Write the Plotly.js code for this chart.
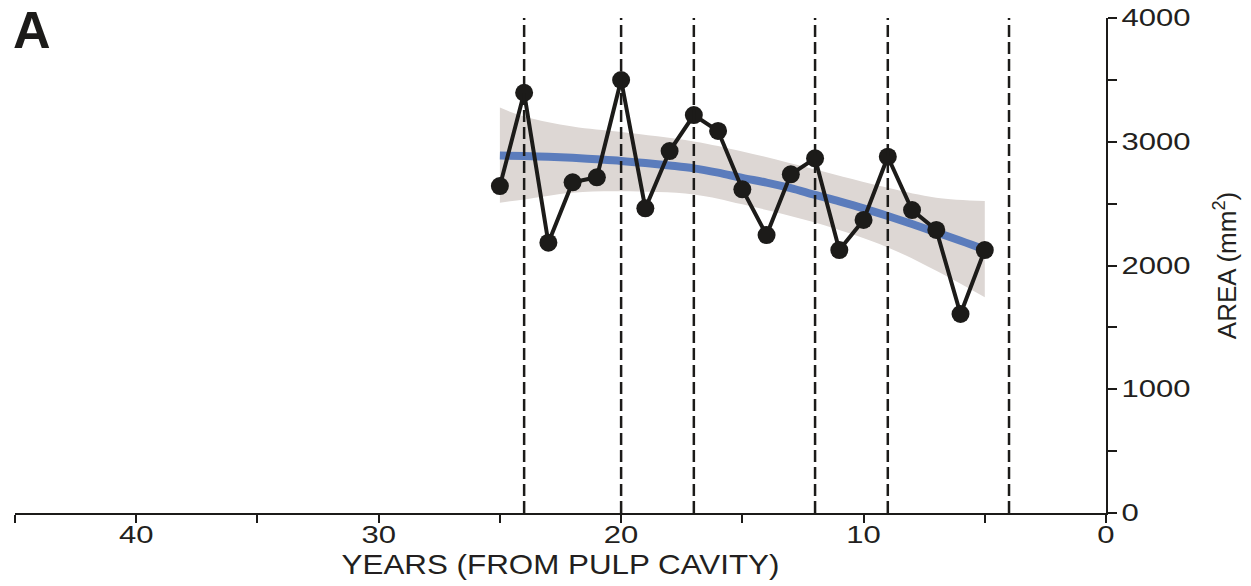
<!DOCTYPE html>
<html>
<head>
<meta charset="utf-8">
<script src="https://cdn.plot.ly/plotly-3.0.1.min.js"></script>
<style>
  html, body { margin: 0; padding: 0; background: #ffffff; }
  #chart { width: 1251px; height: 586px; }
</style>
</head>
<body>
<div id="chart"></div>
<script>
// ---- data ----
const years = [25, 24, 23, 22, 21, 20, 19, 18, 17, 16, 15, 14, 13, 12, 11, 10, 9, 8, 7, 6, 5];
const area  = [2642, 3396, 2184, 2672, 2713, 3499, 2462, 2925, 3216, 3087, 2616, 2246, 2737, 2866, 2125, 2368, 2879, 2448, 2287, 1608, 2125];

const fitYears = [25, 24, 23, 22, 21, 20, 19, 18, 17, 16, 15, 14, 13, 12, 11, 10, 9, 8, 7, 6, 5];
const fitArea  = [2889, 2885, 2879, 2870, 2858, 2845, 2828, 2808, 2785, 2750, 2708, 2670, 2625, 2570, 2518, 2462, 2400, 2335, 2268, 2200, 2129];

const bandYears = [25, 24, 22, 20, 17, 15, 12, 9, 7, 5];
const bandUpper = [3276, 3204, 3123, 3078, 3003, 2922, 2776, 2628, 2548, 2521];
const bandLower = [2508, 2534, 2588, 2600, 2574, 2494, 2347, 2146, 1957, 1743];

const dashedYears = [24, 20, 17, 12, 9, 4];

const xTickVals = [0, 10, 20, 30, 40];
const yTickVals = [0, 1000, 2000, 3000, 4000];

// ---- styling ----
const INK = '#1c1b19';
const FONT = 'Liberation Sans, Arial, Helvetica, sans-serif';

const traces = [
  { x: bandYears, y: bandUpper, type: 'scatter', mode: 'lines',
    line: { width: 0, shape: 'spline', color: 'rgba(0,0,0,0)' }, hoverinfo: 'skip', showlegend: false },
  { x: bandYears, y: bandLower, type: 'scatter', mode: 'lines', fill: 'tonexty',
    fillcolor: '#ddd7d4',
    line: { width: 0, shape: 'spline', color: 'rgba(0,0,0,0)' }, hoverinfo: 'skip', showlegend: false },
  { x: fitYears, y: fitArea, type: 'scatter', mode: 'lines',
    line: { width: 8, shape: 'spline', color: '#5b7cbc' }, showlegend: false },
  { x: years, y: area, type: 'scatter', mode: 'lines+markers',
    line: { width: 4, color: INK },
    marker: { size: 18, color: INK }, showlegend: false }
];

const shapes = dashedYears.map(v => ({
  type: 'line', xref: 'x', yref: 'y', x0: v, x1: v, y0: 0, y1: 4000,
  line: { color: INK, width: 2.5, dash: '12px,5px' }, layer: 'above'
}));

const layout = {
  width: 1251, height: 586,
  margin: { l: 15, r: 145, t: 18, b: 73 },
  paper_bgcolor: '#ffffff', plot_bgcolor: '#ffffff',
  font: { family: FONT, color: '#231f20' },
  showlegend: false,
  xaxis: {
    range: [45, 0], showgrid: false, zeroline: false,
    showline: true, linecolor: INK, linewidth: 2,
    ticks: 'outside', ticklen: 8, tickwidth: 2, tickcolor: INK,
    ticklabelstandoff: -8,
    tickvals: xTickVals, tickfont: { size: 23, family: FONT, color: '#231f20' },
    minor: { dtick: 5, tick0: 0, ticks: 'outside', ticklen: 8, tickwidth: 2, tickcolor: INK, showgrid: false },
    title: { text: 'YEARS (FROM PULP CAVITY)', font: { size: 28, family: FONT, color: '#231f20' }, standoff: 8 }
  },
  yaxis: {
    range: [0, 4000], side: 'right', showgrid: false, zeroline: false,
    showline: true, linecolor: INK, linewidth: 2,
    ticks: 'outside', ticklen: 9, tickwidth: 2, tickcolor: INK,
    tickvals: yTickVals, tickfont: { size: 23, family: FONT, color: '#231f20' },
    minor: { dtick: 500, tick0: 0, ticks: 'outside', ticklen: 9, tickwidth: 2, tickcolor: INK, showgrid: false },
    title: { text: 'AREA (mm<sup>2</sup>)', font: { size: 26, family: FONT, color: '#231f20' }, standoff: 46 }
  },
  shapes: shapes,
  annotations: [{
    text: '<b>A</b>', xref: 'paper', yref: 'paper', x: -0.004, y: 0.975,
    xanchor: 'left', yanchor: 'middle', showarrow: false,
    font: { size: 52, family: FONT, color: INK }
  }]
};

const gd = document.getElementById('chart');
Plotly.newPlot(gd, traces, layout, { staticPlot: true, displayModeBar: false }).then(() => {
  const stretch = (sel, s) => {
    gd.querySelectorAll(sel).forEach(t => {
      const x = parseFloat(t.getAttribute('x')) || 0;
      const tr = t.getAttribute('transform') || '';
      t.setAttribute('transform', tr + ' translate(' + x + ',0) scale(' + s + ',1) translate(' + (-x) + ',0)');
    });
  };
  stretch('.xtick text, .ytick text', 1.35);
  stretch('.xtitle', 1.12);
});
</script>
</body>
</html>
